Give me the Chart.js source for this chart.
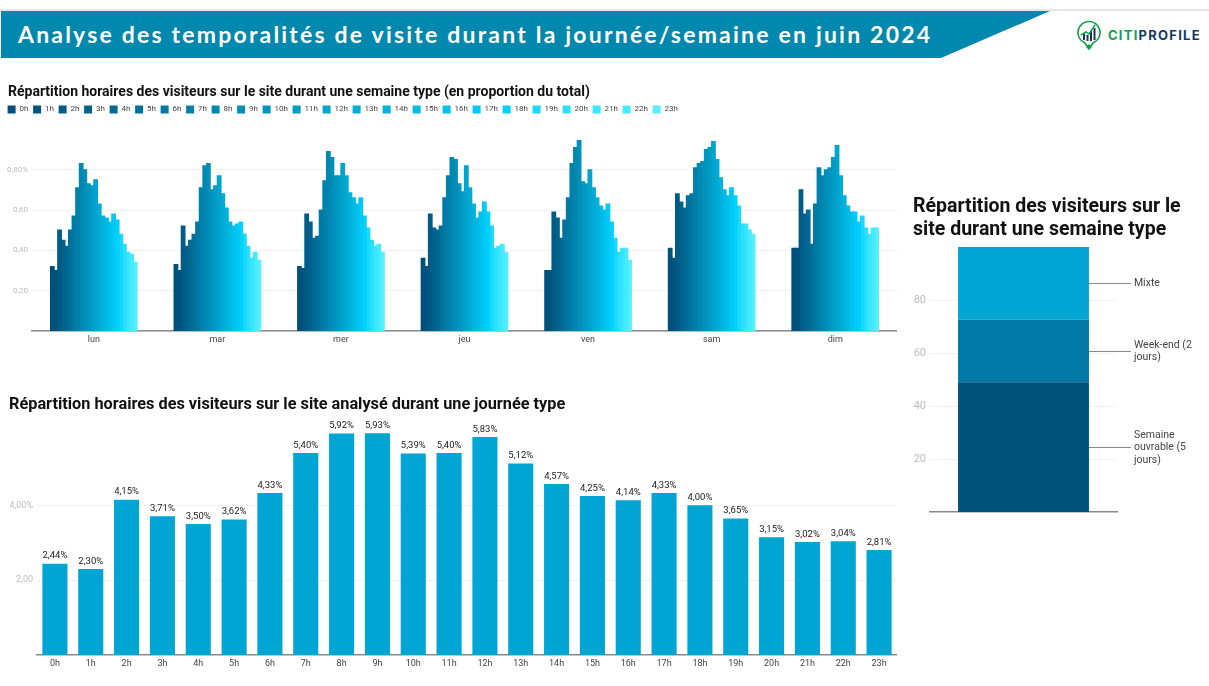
<!DOCTYPE html>
<html lang="fr">
<head>
<meta charset="utf-8">
<title>Analyse des temporalités de visite</title>
<script src="https://cdn.jsdelivr.net/npm/chart.js@4/dist/chart.umd.min.js"></script>
<style>
  html, body { margin: 0; padding: 0; background: #fff; }
  body { width: 1209px; height: 686px; position: relative; overflow: hidden; font-family: Roboto, sans-serif; }
  #topline { position: absolute; left: 0; top: 9px; width: 1209px; height: 2px; background: #e6e6e6; }
  #banner {
    position: absolute; left: 1px; top: 11px; width: 1050px; height: 47px; background: #0088ae;
    clip-path: polygon(0 0, 1049px 0, 940px 47px, 0 47px);
  }
  #banner span {
    position: absolute; left: 17px; top: 9px; color: #fff; font: 700 23px Lato, sans-serif;
    letter-spacing: 2.2px; white-space: nowrap;
  }
  #logo { position: absolute; left: 1077px; top: 20px; }
  #logoText { position: absolute; left: 1108px; top: 27px; font: 700 13px Inter, sans-serif; letter-spacing: 1.25px; color: #14395f; white-space: nowrap; }
  #logoText b { color: #12a14b; font-weight: 700; }
  canvas { position: absolute; }
  #weekChart { left: 2px; top: 84px; }
  #dayChart { left: 9px; top: 395px; }
  #shareChart { left: 913px; top: 196px; }
</style>
</head>
<body>
<div id="topline"></div>
<div id="banner"><span>Analyse des temporalités de visite durant la journée/semaine en juin 2024</span></div>
<svg id="logo" width="24" height="30" viewBox="0 0 24 30">
  <path d="M12 29 L7.5 22.5 A11 11 0 1 1 16.5 22.5 Z" fill="#fff" stroke="#12a14b" stroke-width="1.6"/>
  <path d="M9 27 L12 29.5 L15 27 L12 24 Z" fill="#12a14b"/>
  <rect x="6" y="14" width="2" height="6" fill="#14395f"/>
  <rect x="9.5" y="15" width="2" height="6" fill="#14395f"/>
  <rect x="13" y="11" width="2" height="10" fill="#14395f"/>
  <rect x="16.5" y="8" width="2" height="12" fill="#14395f"/>
  <path d="M4 15 L9 12 L12 14 L18 5" fill="none" stroke="#12a14b" stroke-width="1.5"/>
</svg>
<div id="logoText"><b>CITI</b>PROFILE</div>

<canvas id="weekChart" width="895" height="271"></canvas>
<canvas id="dayChart" width="888" height="280"></canvas>
<canvas id="shareChart" width="290" height="334"></canvas>

<script>
const hours = ['0h','1h','2h','3h','4h','5h','6h','7h','8h','9h','10h','11h','12h','13h','14h','15h','16h','17h','18h','19h','20h','21h','22h','23h'];
const days = ['lun','mar','mer','jeu','ven','sam','dim'];

const lun = [0.32,0.30,0.50,0.45,0.42,0.50,0.57,0.71,0.83,0.80,0.73,0.72,0.75,0.63,0.57,0.56,0.54,0.58,0.55,0.48,0.43,0.39,0.38,0.34];
const mar = [0.33,0.30,0.52,0.42,0.45,0.48,0.54,0.71,0.82,0.83,0.70,0.72,0.77,0.68,0.61,0.54,0.52,0.53,0.54,0.48,0.42,0.36,0.39,0.35];
const mer = [0.32,0.31,0.58,0.54,0.46,0.47,0.60,0.745,0.89,0.86,0.77,0.77,0.83,0.77,0.685,0.66,0.63,0.66,0.57,0.51,0.45,0.42,0.43,0.39];
const jeu = [0.36,0.32,0.58,0.51,0.50,0.52,0.66,0.77,0.86,0.85,0.73,0.69,0.82,0.71,0.63,0.56,0.59,0.64,0.59,0.52,0.41,0.42,0.43,0.39];
const ven = [0.30,0.30,0.59,0.56,0.46,0.55,0.66,0.83,0.91,0.945,0.74,0.73,0.80,0.71,0.66,0.62,0.60,0.63,0.54,0.46,0.39,0.41,0.41,0.35];
const sam = [0.41,0.36,0.68,0.64,0.61,0.67,0.68,0.81,0.83,0.84,0.90,0.91,0.94,0.85,0.76,0.70,0.67,0.71,0.67,0.62,0.53,0.53,0.50,0.48];
const dim = [0.41,0.41,0.70,0.58,0.60,0.43,0.63,0.81,0.77,0.80,0.81,0.86,0.92,0.77,0.67,0.62,0.59,0.59,0.54,0.57,0.51,0.48,0.51,0.51];
const weekRows = [lun, mar, mer, jeu, ven, sam, dim];

const dayValues = [2.44,2.30,4.15,3.71,3.50,3.62,4.33,5.40,5.92,5.93,5.39,5.40,5.83,5.12,4.57,4.25,4.14,4.33,4.00,3.65,3.15,3.02,3.04,2.81];

const shareNames = [['Semaine', 'ouvrable (5', 'jours)'], ['Week-end (2', 'jours)'], ['Mixte']];
const shareValues = [49, 23.6, 27.4];

const hourColors = ['#00507a','#00557f','#005c86','#00638d','#006a94','#00719b','#0079a3','#0081ab','#0088b1','#008fb8','#0096bf','#009dc6','#00a5cf','#00acd6','#00b3de','#00bae6','#00c2ee','#00c9f7','#00d1ff','#1ad8ff','#2bdfff','#3ce5ff','#45ebff','#55f0ff'];
const shareColors = ['#00527a', '#0079a6', '#00a5d4'];

const gridColor = '#f1f1f1';
const axisColor = '#8a8a8a';
const tickGrey = '#bdbdbd';

Chart.defaults.font.family = 'Roboto, sans-serif';
Chart.defaults.animation = false;
Chart.defaults.responsive = false;

function fixedWidth(w) {
  return axis => { axis.width = w; };
}
function fixedHeight(h) {
  return axis => { axis.height = h; };
}

// title and legend start at the page margin, the tick labels hang further left
const alignHeader = {
  id: 'alignHeader',
  afterLayout(chart) {
    chart.titleBlock.left += 6;
    chart.legend.left += 1;
  }
};

// bar labels above the hourly chart
const valueLabels = {
  id: 'valueLabels',
  afterDatasetsDraw(chart) {
    const { ctx } = chart;
    const meta = chart.getDatasetMeta(0);
    ctx.save();
    ctx.font = '9.5px Roboto, sans-serif';
    ctx.fillStyle = '#222';
    ctx.textAlign = 'center';
    ctx.textBaseline = 'bottom';
    meta.data.forEach((bar, i) => {
      ctx.fillText(dayValues[i].toFixed(2).replace('.', ',') + '%', bar.x, bar.y - 3);
    });
    ctx.restore();
  }
};

// leader lines and names on the right of the stacked bar
const shareCallouts = {
  id: 'shareCallouts',
  afterLayout(chart) {
    // the plot keeps room for the names, the title does not
    chart.titleBlock.right = chart.width;
  },
  afterDatasetsDraw(chart) {
    const { ctx } = chart;
    ctx.save();
    ctx.font = '10.5px Roboto, sans-serif';
    ctx.textBaseline = 'middle';
    chart.data.datasets.forEach((ds, i) => {
      const bar = chart.getDatasetMeta(i).data[0];
      const y = Math.round((bar.y + bar.base) / 2) + 0.5;
      ctx.strokeStyle = '#8a8a8a';
      ctx.lineWidth = 1;
      ctx.beginPath();
      ctx.moveTo(bar.x + bar.width / 2, y);
      ctx.lineTo(bar.x + bar.width / 2 + 42, y);
      ctx.stroke();
      ctx.fillStyle = '#444';
      const lines = shareNames[i];
      const top = y - (lines.length - 1) * 6.25;
      lines.forEach((line, k) => ctx.fillText(line, bar.x + bar.width / 2 + 45, top + k * 12.5));
    });
    ctx.restore();
  }
};

new Chart(document.getElementById('weekChart'), {
  type: 'bar',
  data: {
    labels: days,
    datasets: hours.map((h, i) => ({
      label: h,
      data: weekRows.map(row => row[i]),
      backgroundColor: hourColors[i],
      barPercentage: 1,
      categoryPercentage: 0.7,
      inflateAmount: 0.6
    }))
  },
  options: {
    layout: { padding: 0 },
    plugins: {
      title: {
        display: true,
        text: 'Répartition horaires des visiteurs sur le site durant une semaine type (en proportion du total)',
        align: 'start',
        color: '#111',
        font: { size: 14, weight: 'bold' },
        padding: { top: 0, bottom: 0 }
      },
      legend: {
        position: 'top',
        align: 'start',
        labels: { boxWidth: 8, boxHeight: 8, padding: 4.6, color: '#444', font: { size: 8 } }
      },
      tooltip: { enabled: false }
    },
    scales: {
      x: {
        afterFit: fixedHeight(24),
        grid: { display: false, drawTicks: false },
        border: { color: axisColor, width: 1.5 },
        ticks: { color: '#444', font: { size: 9 }, padding: 3 }
      },
      y: {
        min: 0,
        max: 1.03,
        afterFit: fixedWidth(30),
        afterBuildTicks: axis => { axis.ticks = axis.ticks.filter(t => t.value <= 0.85); },
        grid: { color: gridColor, drawTicks: false },
        border: { display: false },
        ticks: {
          stepSize: 0.2,
          color: tickGrey,
          font: { size: 8 },
          padding: 4,
          callback: v => v === 0 ? '' : (v.toFixed(2).replace('.', ',') + (Math.abs(v - 0.8) < 0.01 ? '%' : ''))
        }
      }
    }
  },
  plugins: [alignHeader]
});

new Chart(document.getElementById('dayChart'), {
  type: 'bar',
  data: {
    labels: hours,
    datasets: [{ data: dayValues, backgroundColor: '#00a5d4', barPercentage: 1, categoryPercentage: 0.7 }]
  },
  options: {
    layout: { padding: 0 },
    plugins: {
      title: {
        display: true,
        text: 'Répartition horaires des visiteurs sur le site analysé durant une journée type',
        align: 'start',
        color: '#111',
        font: { size: 16.3, weight: 'bold' },
        padding: { top: 0, bottom: 16 }
      },
      legend: { display: false },
      tooltip: { enabled: false }
    },
    scales: {
      x: {
        afterFit: fixedHeight(20),
        grid: { display: false, drawTicks: false },
        border: { color: axisColor, width: 1.5 },
        ticks: { color: '#444', font: { size: 9 }, padding: 3, maxRotation: 0, autoSkip: false }
      },
      y: {
        min: 0,
        max: 6,
        afterFit: fixedWidth(28),
        afterBuildTicks: axis => { axis.ticks = axis.ticks.filter(t => t.value === 2 || t.value === 4); },
        grid: { color: gridColor, drawTicks: false },
        border: { display: false },
        ticks: {
          stepSize: 2,
          color: tickGrey,
          font: { size: 9 },
          padding: 4,
          callback: v => v.toFixed(2).replace('.', ',') + (v === 4 ? '%' : '')
        }
      }
    }
  },
  plugins: [valueLabels]
});

new Chart(document.getElementById('shareChart'), {
  type: 'bar',
  data: {
    labels: [''],
    datasets: shareValues.map((v, i) => ({
      label: shareNames[i].join(' '),
      data: [v],
      backgroundColor: shareColors[i],
      barPercentage: 1,
      categoryPercentage: 0.7
    }))
  },
  options: {
    layout: { padding: { right: 86 } },
    plugins: {
      title: {
        display: true,
        text: ['Répartition des visiteurs sur le', 'site durant une semaine type'],
        align: 'start',
        color: '#111',
        font: { size: 19.5, weight: 'bold', lineHeight: 1.18 },
        padding: { top: 0, bottom: 5 }
      },
      legend: { display: false },
      tooltip: { enabled: false }
    },
    scales: {
      x: {
        stacked: true,
        afterFit: fixedHeight(18),
        grid: { display: false, drawTicks: false },
        border: { color: axisColor, width: 1.5 },
        ticks: { display: false }
      },
      y: {
        stacked: true,
        min: 0,
        max: 100,
        afterFit: fixedWidth(17),
        afterBuildTicks: axis => { axis.ticks = axis.ticks.filter(t => t.value > 0 && t.value < 100); },
        grid: { color: gridColor, drawTicks: false },
        border: { display: false },
        ticks: { stepSize: 20, color: tickGrey, font: { size: 11 }, padding: 4 }
      }
    }
  },
  plugins: [shareCallouts]
});
</script>
</body>
</html>
